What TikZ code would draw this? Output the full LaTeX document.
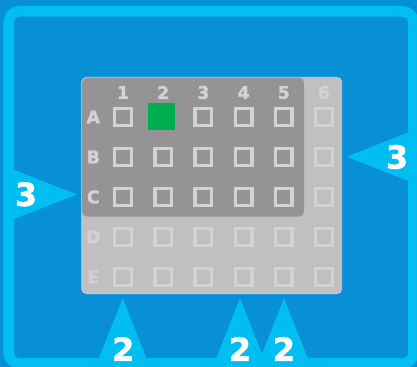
\documentclass[tikz,border=0pt]{standalone}
\usepackage{fontspec}
\setmainfont{DejaVu Sans}[BoldFeatures={FakeBold=1.6}]
\usetikzlibrary{positioning}
\definecolor{wbg}{HTML}{0790D6}
\definecolor{wband}{HTML}{00BEF2}
\definecolor{wplate}{HTML}{C0C0C2}
\definecolor{wdark}{HTML}{949497}
\definecolor{wline}{HTML}{D3D3D5}
\definecolor{wfaint}{HTML}{D2D2D4}
\definecolor{wgreen}{HTML}{00AE50}

\tikzset{
  gridlabel/.style={font=\fontsize{17.5}{17.5}\selectfont\bfseries, inner sep=0pt},
  bignum/.style={font=\fontsize{32}{32}\selectfont\bfseries, text=white, inner sep=0pt},
  cellbox/.style={draw=wline, line width=3.4bp}
}

\begin{document}
\begin{tikzpicture}[x=1bp, y=-1bp]
  \useasboundingbox (0,0) rectangle (417,367);

  %% Background and frame
  \fill[wbg] (0,0) rectangle (417,367);
  \draw[wband, line width=10.6bp, rounded corners=11bp] (8.7,11.3) rectangle (413.5,363.5);

  %% Pointers
  \fill[wband] (9,168) -- (77,194.5) -- (9,221) -- cycle;
  \fill[wband] (410,131.7) -- (346.7,156.7) -- (410,181.7) -- cycle;
  \foreach \x in {122.7,240,284}{
    \fill[wband] ({\x-24.5},360) -- (\x,298.3) -- ({\x+24.5},360) -- cycle;
  }

  %% Plate
  \filldraw[fill=wplate, draw=wline!70!wplate, line width=0.8bp, rounded corners=5bp]
    (81.7,77.3) rectangle (341.7,293.8);
  \fill[wdark, rounded corners=5bp] (82.1,77.7) rectangle (304,216.5);

  %% Column and row labels
  \foreach \i/\col in {1/wline,2/wline,3/wline,4/wline,5/wline,6/wfaint}{
    \node[gridlabel, text=\col] (col\i) at ({123+40.2*(\i-1)},92.5) {\i};
  }
  \foreach \r/\y/\col in {A/117/wline, B/157/wline, C/197/wline, D/237/wfaint, E/277/wfaint}{
    \node[gridlabel, text=\col] (row\r) at (93.3,\y) {\r};
  }

  %% Cells
  \foreach \y in {117,157,197,237,277}{
    \foreach \i in {1,...,6}{
      \draw[cellbox] ({123+40.2*(\i-1)-8.3},{\y-8.3}) rectangle ++(16.6,16.6);
    }
  }
  \fill[wgreen] (148,102.8) rectangle (175,130);

  %% Counts
  \node[bignum] (threeleft) at (26,194.3) {3};
  \node[bignum] (threeright) at (397,157) {3};
  \node[bignum] (twoa) at (123.3,349) {2};
  \node[bignum] (twob) at (240,349) {2};
  \node[bignum] (twoc) at (284,349) {2};

\end{tikzpicture}
\end{document}
